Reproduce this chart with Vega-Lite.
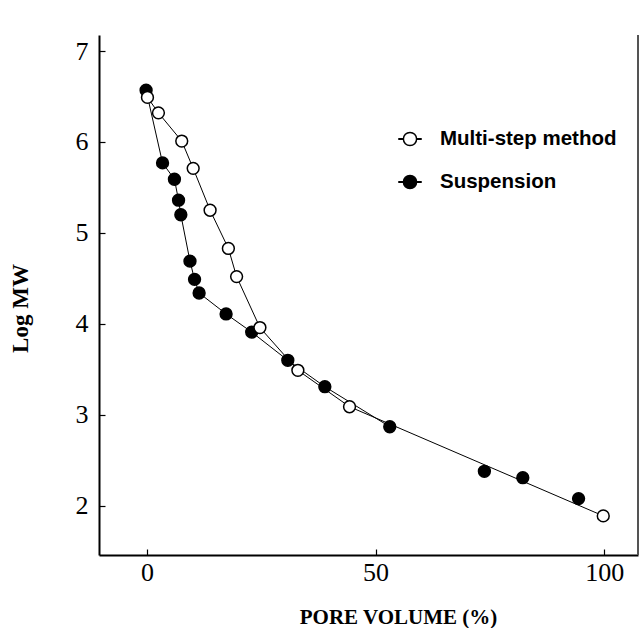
{
  "$schema": "https://vega.github.io/schema/vega-lite/v6.json",
  "autosize": "none",
  "padding": {"left": 99, "top": 35, "right": 1, "bottom": 73},
  "width": 539,
  "height": 520,
  "background": "white",
  "config": {
    "view": {"stroke": null},
    "axis": {
      "grid": false,
      "domainColor": "black",
      "domainWidth": 2,
      "tickColor": "black",
      "tickWidth": 1.2,
      "tickSize": -6,
      "labelFont": "Liberation Serif",
      "labelFontSize": 26,
      "labelColor": "black",
      "labelFlush": false,
      "labelOverlap": false,
      "titleFont": "Liberation Serif",
      "titleFontWeight": "bold",
      "titleColor": "black"
    }
  },
  "data": {
    "values": [
      {"series": "Suspension", "pv": -0.2, "logmw": 6.57},
      {"series": "Suspension", "pv": 3.4, "logmw": 5.77},
      {"series": "Suspension", "pv": 6.0, "logmw": 5.59},
      {"series": "Suspension", "pv": 6.9, "logmw": 5.36},
      {"series": "Suspension", "pv": 7.4, "logmw": 5.2},
      {"series": "Suspension", "pv": 9.4, "logmw": 4.69},
      {"series": "Suspension", "pv": 10.4, "logmw": 4.49},
      {"series": "Suspension", "pv": 11.4, "logmw": 4.34},
      {"series": "Suspension", "pv": 17.3, "logmw": 4.11},
      {"series": "Suspension", "pv": 22.9, "logmw": 3.91},
      {"series": "Suspension", "pv": 30.8, "logmw": 3.6},
      {"series": "Suspension", "pv": 38.9, "logmw": 3.31},
      {"series": "Suspension", "pv": 53.1, "logmw": 2.87},
      {"series": "Suspension", "pv": 73.8, "logmw": 2.38},
      {"series": "Suspension", "pv": 82.2, "logmw": 2.31},
      {"series": "Suspension", "pv": 94.4, "logmw": 2.08},
      {"series": "Multi-step method", "pv": 0.1, "logmw": 6.49},
      {"series": "Multi-step method", "pv": 2.5, "logmw": 6.32},
      {"series": "Multi-step method", "pv": 7.6, "logmw": 6.01},
      {"series": "Multi-step method", "pv": 10.1, "logmw": 5.71},
      {"series": "Multi-step method", "pv": 13.8, "logmw": 5.25},
      {"series": "Multi-step method", "pv": 17.8, "logmw": 4.83},
      {"series": "Multi-step method", "pv": 19.6, "logmw": 4.52},
      {"series": "Multi-step method", "pv": 24.7, "logmw": 3.96},
      {"series": "Multi-step method", "pv": 33.0, "logmw": 3.49},
      {"series": "Multi-step method", "pv": 44.3, "logmw": 3.09},
      {"series": "Multi-step method", "pv": 99.8, "logmw": 1.89}
    ]
  },
  "encoding": {
    "x": {
      "field": "pv",
      "type": "quantitative",
      "scale": {"domain": [-10.5, 107.4], "nice": false, "zero": false},
      "axis": {
        "values": [0, 50, 100],
        "title": "PORE VOLUME (%)",
        "labelBaseline": "alphabetic",
        "labelPadding": 31,
        "titleFontSize": 21,
        "titleX": 299,
        "titleY": 68,
        "titleAlign": "center",
        "titleBaseline": "alphabetic",
        "titleAnchor": null
      }
    },
    "y": {
      "field": "logmw",
      "type": "quantitative",
      "scale": {"domain": [1.46, 7.176], "nice": false, "zero": false},
      "axis": {
        "values": [2, 3, 4, 5, 6, 7],
        "title": "Log MW",
        "labelPadding": 17,
        "labelBaseline": "middle",
        "titleFontSize": 23,
        "titleAngle": -90,
        "titleX": -72,
        "titleY": 273,
        "titleAlign": "center",
        "titleBaseline": "alphabetic",
        "titleAnchor": null
      }
    }
  },
  "layer": [
    {
      "mark": {"type": "rule", "color": "#555", "strokeWidth": 1},
      "encoding": {
        "x": {"datum": 107.4, "type": "quantitative"},
        "y": null
      }
    },
    {
      "transform": [{"filter": "datum.series == 'Multi-step method' || datum.pv <= 54"}],
      "mark": {"type": "line", "color": "black", "strokeWidth": 1},
      "encoding": {
        "detail": {"field": "series", "type": "nominal"},
        "order": {"field": "pv", "type": "quantitative"}
      }
    },
    {
      "mark": {"type": "point", "filled": true, "size": 140, "stroke": "black", "strokeWidth": 1.5, "opacity": 1},
      "encoding": {
        "fill": {
          "field": "series",
          "type": "nominal",
          "scale": {"domain": ["Multi-step method", "Suspension"], "range": ["white", "black"]},
          "legend": {
            "title": null,
            "orient": "none",
            "legendX": 299,
            "legendY": 92,
            "padding": 0,
            "symbolType": "M-1,-0.02L-0.6,-0.02L-0.6,0.02L-1,0.02Z M0.6,-0.02L1,-0.02L1,0.02L0.6,0.02Z M-0.6,0A0.6,0.6,0,1,1,0.6,0A0.6,0.6,0,1,1,-0.6,0Z",
            "symbolSize": 484,
            "symbolStrokeColor": "black",
            "symbolStrokeWidth": 1.5,
            "symbolOpacity": 1,
            "labelFont": "Liberation Sans",
            "labelFontWeight": "bold",
            "labelFontSize": 20.5,
            "labelColor": "black",
            "labelOffset": 18,
            "labelLimit": 400,
            "rowPadding": 20,
            "encode": {
              "symbols": {
                "update": {
                  "shape": {"value": "M-1,-0.02L-0.6,-0.02L-0.6,0.02L-1,0.02Z M0.6,-0.02L1,-0.02L1,0.02L0.6,0.02Z M-0.6,0A0.6,0.6,0,1,1,0.6,0A0.6,0.6,0,1,1,-0.6,0Z"},
                  "size": {"value": 484},
                  "stroke": {"value": "black"},
                  "strokeWidth": {"value": 1.5}
                }
              }
            }
          }
        }
      }
    }
  ]
}
